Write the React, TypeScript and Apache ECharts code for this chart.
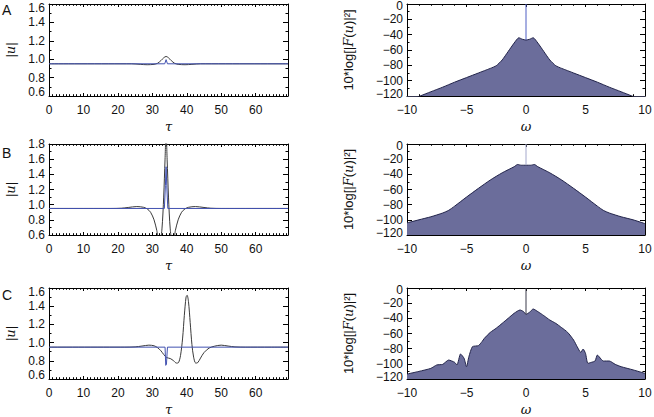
import React, { useEffect, useRef } from "react";
import * as echarts from "echarts";

// ---------- tick labels ----------
const TAU_MAX = 69.4;
const tauMajors = [0, 10, 20, 30, 40, 50, 60];
const uMajorsA = [0.6, 0.8, 1.0, 1.2, 1.4, 1.6];
const uMinorsA = [0.7, 0.9, 1.1, 1.3, 1.5];
const uMajorsB = [0.6, 0.8, 1.0, 1.2, 1.4, 1.6, 1.8];
const uMinorsB = [0.7, 0.9, 1.1, 1.3, 1.5, 1.7];
const omegaMajors = [-10, -5, 0, 5, 10];
const dbMajors = [-120, -100, -80, -60, -40, -20, 0];
const dbMinors = [-110, -90, -70, -50, -30, -10];
const panelLetters = ["A", "B", "C"];

// ---------- panel A ----------
const tauA1 = [0, 24, 26.5, 28.5, 30.5, 31.5, 32.5, 33.3, 34, 34.7, 35.5, 36.5, 37.5, 39.5, 41.5, 44, 69.4];
const uA1 = [0.95, 0.95, 0.944, 0.94, 0.944, 0.955, 0.985, 1.015, 1.03, 1.015, 0.985, 0.955, 0.944, 0.94, 0.944, 0.95, 0.95];
const tauA2 = [0, 33.6, 34, 34.4, 69.4];
const uA2 = [0.95, 0.95, 0.995, 0.95, 0.95];
const omegaA = [-10, -8.9, -8, -7, -6, -5, -4, -3, -2.5, -2, -1.5, -1, -0.6, -0.3, 0, 0.3, 0.6, 1, 1.5, 2, 2.5, 3, 4, 5, 6, 7, 8, 8.9, 10];
const dbA = [-127, -120, -114.5, -108.5, -102, -96, -90, -84, -80.5, -73, -62, -51, -44, -46, -47, -46, -44, -51, -62, -73, -80.5, -84, -90, -96, -102, -108.5, -114.5, -120, -127];

// ---------- panel B ----------
const tauB1 = [0, 18, 21, 23, 25.5, 27.5, 28.5, 29.5, 30.5, 31.3, 31.8, 32.3, 32.8, 33.3, 33.7, 34, 34.3, 34.7, 35.2, 35.7, 36.2, 36.7, 37.5, 38.5, 39.5, 40.5, 42.5, 45, 47, 50, 69.4];
const uB1 = [0.95, 0.95, 0.953, 0.963, 0.975, 0.965, 0.945, 0.9, 0.8, 0.66, 0.55, 0.55, 0.68, 1.1, 1.6, 1.95, 1.6, 1.1, 0.68, 0.55, 0.55, 0.66, 0.8, 0.9, 0.945, 0.965, 0.975, 0.963, 0.953, 0.95, 0.95];
const tauB2 = [0, 33.5, 33.8, 34, 34.2, 34.5, 69.4];
const uB2 = [0.95, 0.95, 1.25, 1.5, 1.25, 0.95, 0.95];
const omegaB = [-10, -9, -8, -7, -6.5, -6, -5, -4, -3, -2, -1, -0.7, -0.4, 0, 0.4, 0.7, 1, 2, 3, 4, 5, 6, 6.5, 7, 8, 9, 10];
const dbB = [-104, -100, -96, -91, -87.5, -82, -70, -58.5, -47.5, -38, -30, -27, -28, -28, -28, -27, -30, -38, -47.5, -58.5, -70, -82, -87.5, -91, -96, -100, -105];

// ---------- panel C ----------
const tauC1 = [0, 22, 25, 27, 29, 30.5, 31.5, 32.5, 33.3, 34.2, 35.2, 36.2, 37, 37.6, 38.2, 38.8, 39.3, 39.8, 40.1, 40.5, 41, 41.5, 42, 42.6, 43.2, 44, 45, 46.5, 48, 50, 52, 54, 57, 69.4];
const uC1 = [0.95, 0.95, 0.953, 0.962, 0.972, 0.965, 0.945, 0.91, 0.87, 0.835, 0.825, 0.8, 0.775, 0.78, 0.86, 1.05, 1.3, 1.5, 1.52, 1.45, 1.22, 0.98, 0.84, 0.775, 0.78, 0.83, 0.89, 0.94, 0.96, 0.972, 0.962, 0.953, 0.95, 0.95];
const tauC2 = [0, 33.7, 33.9, 34.1, 34.4, 69.4];
const uC2 = [0.95, 0.95, 0.75, 0.76, 0.95, 0.95];
const omegaC = [-10, -9, -8, -7.5, -7, -6.5, -6, -5.8, -5.5, -5.2, -5, -4.8, -4.5, -4, -3.7, -3.5, -3, -2.5, -2, -1.5, -1, -0.5, -0.2, 0, 0.3, 0.6, 1, 1.5, 2, 2.5, 3, 3.5, 4, 4.3, 4.6, 4.8, 5, 5.2, 5.5, 5.8, 6, 6.3, 6.5, 7, 7.5, 8, 9, 10];
const dbC = [-113.5, -110, -106, -101.5, -100.7, -95, -98, -101.5, -87, -92.8, -103.8, -90.6, -77.4, -76, -70.8, -66.4, -58.5, -53, -46.6, -40, -33.4, -29, -31.2, -34.7, -32, -27.7, -31.2, -36.5, -42.2, -46.6, -52.3, -58.5, -68.6, -77.4, -84.9, -80.5, -86.2, -99.4, -98, -96.3, -88.4, -93.6, -96.3, -96.3, -100.7, -103.8, -108, -112.6];

const FONT = "Liberation Sans";
const TXT = "#111";

const zip = (a: number[], b: number[]) => a.map((v, i) => [v, b[i]]);
const minus = (v: number) => (v < 0 ? "\u2212" + Math.abs(v) : String(v));

function range(a: number, b: number, step: number) {
  const out: number[] = [];
  for (let v = a; v <= b + 1e-9; v += step) out.push(Math.round(v * 1000) / 1000);
  return out;
}

function makeX(grid: number, min: number, max: number, majors: number[], minors: number[], fmt: (v: number) => string, name: string) {
  const base = {
    type: "value",
    gridIndex: grid,
    min,
    max,
    splitLine: { show: false },
    axisPointer: { show: false },
  };
  const line = { show: true, onZero: false, lineStyle: { color: "#000", width: 1 } };
  return [
    {
      ...base,
      position: "bottom",
      axisLine: line,
      axisTick: { show: true, inside: true, length: 3, customValues: majors, lineStyle: { color: "#000" } },
      axisLabel: { show: true, interval: 0, customValues: majors, formatter: fmt, margin: 8, fontSize: 12, fontFamily: FONT, color: TXT, showMinLabel: true, showMaxLabel: true },
      name,
      nameLocation: "middle",
      nameGap: 24,
      nameTextStyle: { fontFamily: "DejaVu Serif", fontStyle: "italic", fontSize: 13, color: TXT },
    },
    {
      ...base,
      position: "bottom",
      axisLine: { show: false, onZero: false },
      axisTick: { show: true, inside: true, length: 1.8, customValues: minors, lineStyle: { color: "#000" } },
      axisLabel: { show: false },
    },
    {
      ...base,
      position: "top",
      axisLine: line,
      axisTick: { show: true, inside: true, length: 3, customValues: majors, lineStyle: { color: "#000" } },
      axisLabel: { show: false },
    },
    {
      ...base,
      position: "top",
      axisLine: { show: false, onZero: false },
      axisTick: { show: true, inside: true, length: 1.8, customValues: minors, lineStyle: { color: "#000" } },
      axisLabel: { show: false },
    },
  ];
}

function makeY(grid: number, min: number, max: number, majors: number[], minors: number[], fmt: (v: number) => string, name: string, nameGap: number, nameSize: number, nudgePad: number) {
  const base = {
    type: "value",
    gridIndex: grid,
    min,
    max,
    splitLine: { show: false },
    axisPointer: { show: false },
  };
  const line = { show: true, onZero: false, lineStyle: { color: "#000", width: 1 } };
  const labelBase = { show: true, interval: 0, margin: 4, fontSize: 12, lineHeight: 10, fontFamily: FONT, color: TXT, hideOverlap: false };
  const rich = {
    t: { padding: [nudgePad, 0, 0, 0], fontSize: 12, lineHeight: 10, fontFamily: FONT, color: TXT },
    b: { padding: [0, 0, nudgePad, 0], fontSize: 12, lineHeight: 10, fontFamily: FONT, color: TXT },
  };
  // middle labels on the main axis, end labels (nudged inward) on the companion axis
  const inner = majors.filter((v) => Math.abs(v - min) > 1e-9 && Math.abs(v - max) > 1e-9);
  const ends = [min, max];
  const nudged = (v: number) => {
    const s = fmt(v);
    if (Math.abs(v - max) < 1e-9) return "{t|" + s + "}";
    return "{b|" + s + "}";
  };
  return [
    {
      ...base,
      position: "left",
      axisLine: line,
      axisTick: { show: true, inside: true, length: 5, customValues: majors, lineStyle: { color: "#000" } },
      axisLabel: { ...labelBase, customValues: inner, formatter: fmt, showMinLabel: true, showMaxLabel: true },
      name,
      nameLocation: "middle",
      nameGap,
      nameRotate: 90,
      nameTextStyle: {
        fontFamily: FONT,
        fontSize: nameSize,
        color: TXT,
        rich: { i: { fontFamily: "DejaVu Serif", fontStyle: "italic", fontSize: nameSize, color: TXT } },
      },
    },
    {
      ...base,
      position: "left",
      axisLine: { show: false, onZero: false },
      axisTick: { show: true, inside: true, length: 2.5, customValues: minors, lineStyle: { color: "#000" } },
      axisLabel: { ...labelBase, customValues: ends, formatter: nudged, rich, showMinLabel: true, showMaxLabel: true },
    },
    {
      ...base,
      position: "right",
      axisLine: line,
      axisTick: { show: true, inside: true, length: 5, customValues: majors, lineStyle: { color: "#000" } },
      axisLabel: { show: false },
    },
    {
      ...base,
      position: "right",
      axisLine: { show: false, onZero: false },
      axisTick: { show: true, inside: true, length: 2.5, customValues: minors, lineStyle: { color: "#000" } },
      axisLabel: { show: false },
    },
  ];
}

export default function App() {
  const ref = useRef<HTMLDivElement>(null);

  useEffect(() => {
    if (!ref.current) return;
    const chart = echarts.init(ref.current, null, { renderer: "svg" });

    const rowsTop = [4, 144, 288];
    const rowsH = [92, 91, 91];
    const grids: any[] = [];
    rowsTop.forEach((t, r) => {
      grids.push({ left: 49, top: t, width: 239, height: rowsH[r], containLabel: false, outerBoundsMode: "none" });
      grids.push({ left: 407, top: t, width: 238, height: rowsH[r], containLabel: false, outerBoundsMode: "none" });
    });

    const tauMinors = range(0, 69, 1);
    const omegaMinors = range(-10, 10, 1);
    const fmtU = (v: number) => v.toFixed(1);

    const leftY = [
      { min: 0.6, max: 1.6, majors: uMajorsA, minors: uMinorsA, pad: 8 },
      { min: 0.6, max: 1.8, majors: uMajorsB, minors: uMinorsB, pad: 0 },
      { min: 0.6, max: 1.6, majors: uMajorsA, minors: uMinorsA, pad: 8 },
    ];

    const xAxes: any[] = [];
    const yAxes: any[] = [];
    for (let r = 0; r < 3; r++) {
      const gl = r * 2;
      const gr = r * 2 + 1;
      xAxes.push(...makeX(gl, 0, TAU_MAX, tauMajors, tauMinors, (v) => String(v), "τ"));
      yAxes.push(...makeY(gl, leftY[r].min, leftY[r].max, leftY[r].majors, leftY[r].minors, fmtU, "|{i|u}|", 32, 13, leftY[r].pad));
      xAxes.push(...makeX(gr, -10, 10, omegaMajors, omegaMinors, minus, "ω"));
      yAxes.push(...makeY(gr, -120, 0, dbMajors, dbMinors, minus, "10*log[|{i|F}({i|u})|²]", 52, 13, 4));
    }

    const leftData = [
      [zip(tauA1, uA1), zip(tauA2, uA2)],
      [zip(tauB1, uB1), zip(tauB2, uB2)],
      [zip(tauC1, uC1), zip(tauC2, uC2)],
    ];
    const specData = [zip(omegaA, dbA), zip(omegaB, dbB), zip(omegaC, dbC)];
    const specAtZero = [dbA[omegaA.indexOf(0)], dbB[omegaB.indexOf(0)], dbC[omegaC.indexOf(0)]];
    const spikeColors = ["#4f5fc4", "#a4a8cc", "#3a3a4a"];

    const series: any[] = [];
    for (let r = 0; r < 3; r++) {
      const gl = r * 2;
      const gr = r * 2 + 1;
      series.push({
        type: "line",
        xAxisIndex: gl * 4,
        yAxisIndex: gl * 4,
        data: leftData[r][0],
        symbol: "none",
        smooth: 0.3,
        lineStyle: { color: "#3a3a3a", width: 1 },
        clip: true,
        z: 2,
      });
      series.push({
        type: "line",
        xAxisIndex: gl * 4,
        yAxisIndex: gl * 4,
        data: leftData[r][1],
        symbol: "none",
        smooth: false,
        lineStyle: { color: "#4151b0", width: 1 },
        clip: true,
        z: 3,
      });
      series.push({
        type: "line",
        xAxisIndex: gr * 4,
        yAxisIndex: gr * 4,
        data: specData[r],
        symbol: "none",
        smooth: 0.2,
        lineStyle: { color: "#22244a", width: 1 },
        areaStyle: { color: "#6b6d9b", opacity: 1, origin: "start" },
        clip: true,
        z: 2,
      });
      series.push({
        type: "line",
        xAxisIndex: gr * 4,
        yAxisIndex: gr * 4,
        data: [[0, specAtZero[r]], [0, 0]],
        symbol: "none",
        lineStyle: { color: spikeColors[r], width: 1 },
        clip: true,
        z: 3,
      });
    }

    const letterTops = [3, 146, 288];
    const graphic = panelLetters.map((L, i) => ({
      type: "text",
      left: 2,
      top: letterTops[i],
      style: { text: L, fontSize: 14, fontFamily: FONT, fill: TXT },
    }));

    chart.setOption({
      animation: false,
      backgroundColor: "#fff",
      grid: grids,
      xAxis: xAxes,
      yAxis: yAxes,
      series,
      graphic,
    });

    return () => chart.dispose();
  }, []);

  return (
    <div
      ref={ref}
      style={{ position: "absolute", left: 0, top: 0, width: 654, height: 417 }}
    />
  );
}
